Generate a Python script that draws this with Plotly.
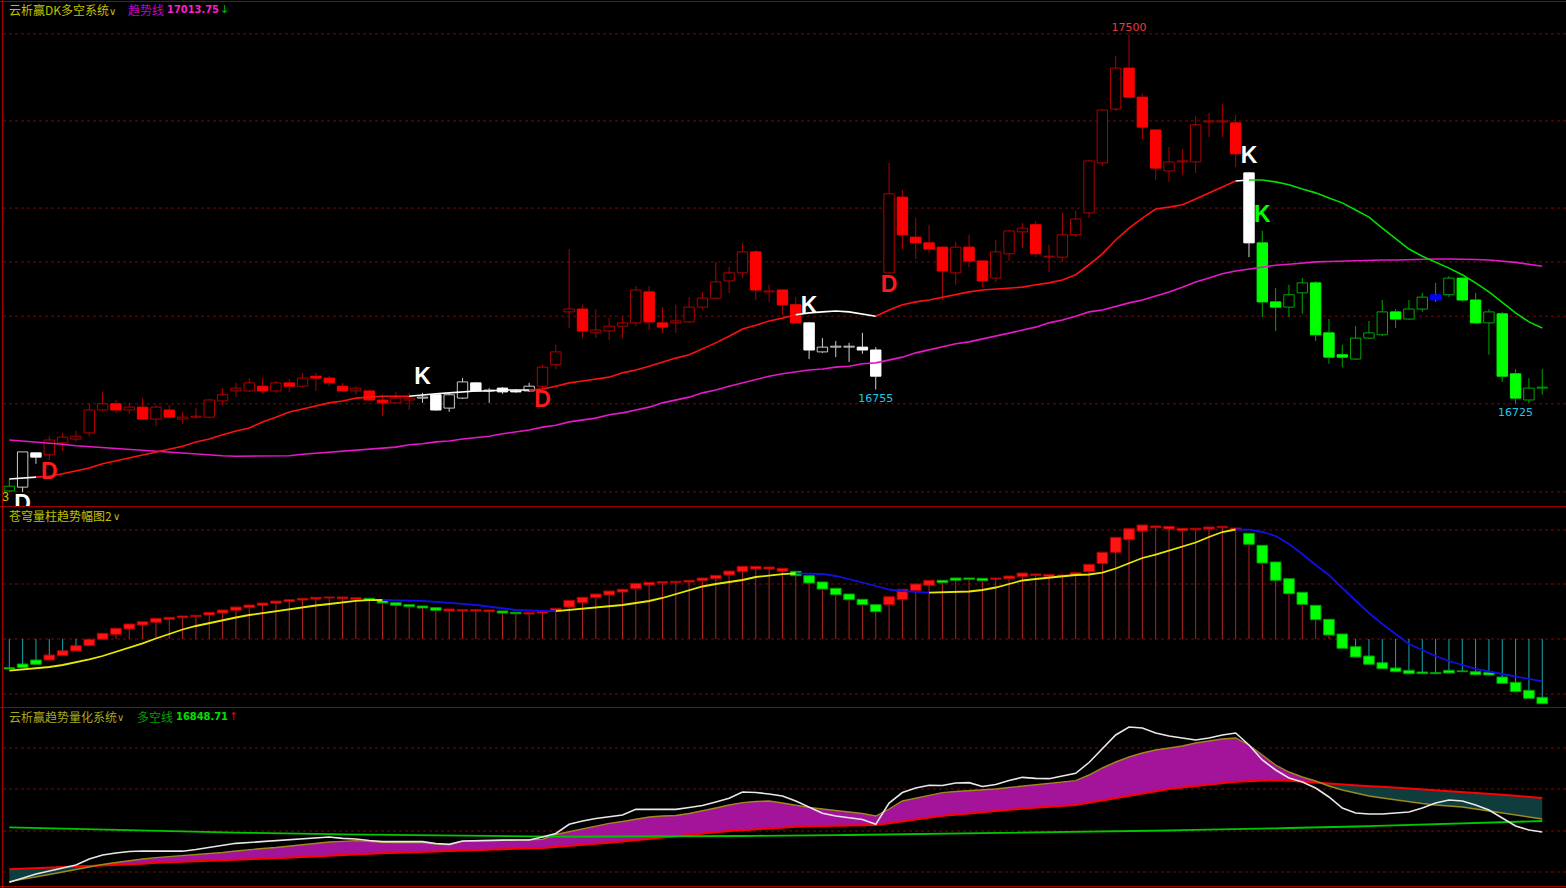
import plotly.graph_objects as go

# ======================= DATA =======================
N_BARS = 116
bars = list(range(N_BARS))

opens = [16542, 16550, 16622, 16618, 16643, 16651, 16664, 16712, 16725, 16712,
         16718, 16693, 16712, 16693, 16697, 16697, 16731, 16752, 16752, 16762,
         16752, 16769, 16762, 16783, 16779, 16762, 16752, 16752, 16733, 16727,
         16733, 16737, 16744, 16716, 16737, 16769, 16752, 16758, 16752, 16752,
         16762, 16807, 16918, 16924, 16874, 16878, 16888, 16895, 16960, 16895,
         16895, 16897, 16928, 16947, 16983, 17000, 17044, 16960, 16964, 16933,
         16895, 16834, 16844, 16844, 16844, 16838, 17000, 17159, 17075, 17063,
         17054, 17000, 17054, 17025, 16989, 17040, 17086, 17101, 17033, 17033,
         17080, 17126, 17231, 17344, 17430, 17369, 17300, 17214, 17233, 17233,
         17317, 17317, 17315, 17210, 17063, 16939, 16928, 16958, 16979, 16874,
         16828, 16819, 16863, 16870, 16918, 16903, 16924, 16954, 16954, 16989,
         16943, 16895, 16914, 16788, 16733, 16758]
closes = [16552, 16624, 16613, 16649, 16655, 16657, 16712, 16725, 16712, 16718,
          16693, 16718, 16697, 16697, 16699, 16733, 16744, 16758, 16769, 16752,
          16769, 16762, 16779, 16779, 16769, 16752, 16758, 16733, 16727, 16737,
          16737, 16739, 16712, 16744, 16771, 16752, 16754, 16750, 16750, 16762,
          16802, 16834, 16924, 16878, 16880, 16888, 16895, 16964, 16897, 16886,
          16899, 16928, 16947, 16981, 17000, 17044, 16964, 16962, 16933, 16895,
          16838, 16844, 16846, 16846, 16838, 16783, 17166, 17080, 17063, 17050,
          17004, 17054, 17025, 16983, 17044, 17088, 17094, 17040, 17035, 17080,
          17113, 17235, 17342, 17430, 17369, 17306, 17220, 17233, 17235, 17311,
          17319, 17319, 17250, 17063, 16939, 16928, 16954, 16979, 16870, 16823,
          16823, 16863, 16874, 16918, 16903, 16924, 16949, 16943, 16989, 16943,
          16895, 16918, 16783, 16737, 16758, 16760]
highs = [16567, 16624, 16622, 16657, 16664, 16668, 16727, 16750, 16733, 16727,
         16737, 16722, 16722, 16708, 16716, 16735, 16758, 16769, 16779, 16779,
         16773, 16777, 16790, 16790, 16783, 16769, 16762, 16754, 16744, 16750,
         16748, 16748, 16746, 16748, 16779, 16771, 16758, 16760, 16756, 16769,
         16807, 16849, 17050, 16933, 16924, 16905, 16907, 16972, 16972, 16928,
         16933, 16949, 16960, 17023, 17012, 17063, 17048, 16975, 16966, 16949,
         16897, 16863, 16857, 16853, 16874, 16844, 17231, 17174, 17115, 17101,
         17056, 17065, 17080, 17027, 17069, 17090, 17105, 17109, 17059, 17126,
         17130, 17237, 17344, 17455, 17500, 17376, 17302, 17264, 17260, 17329,
         17336, 17355, 17332, 17212, 17088, 16968, 16975, 16989, 16983, 16903,
         16849, 16888, 16899, 16943, 16924, 16943, 16958, 16979, 16993, 16991,
         16958, 16924, 16918, 16798, 16779, 16798]
lows = [16540, 16540, 16599, 16607, 16626, 16645, 16657, 16710, 16706, 16704,
        16691, 16678, 16693, 16683, 16693, 16695, 16722, 16739, 16750, 16748,
        16748, 16750, 16760, 16752, 16762, 16750, 16744, 16731, 16699, 16725,
        16712, 16727, 16710, 16708, 16735, 16750, 16727, 16746, 16748, 16750,
        16758, 16798, 16884, 16863, 16863, 16859, 16863, 16888, 16880, 16874,
        16874, 16895, 16924, 16945, 16958, 16989, 16943, 16939, 16912, 16893,
        16819, 16832, 16823, 16813, 16830, 16755, 16998, 17050, 17029, 17042,
        16943, 16975, 17012, 16970, 16981, 17025, 17052, 17033, 17002, 17023,
        17075, 17115, 17224, 17340, 17367, 17281, 17195, 17191, 17206, 17210,
        17285, 17285, 17222, 17033, 16907, 16878, 16907, 16914, 16857, 16809,
        16802, 16817, 16861, 16867, 16884, 16901, 16918, 16939, 16949, 16939,
        16893, 16828, 16771, 16725, 16727, 16744]

# DK long/short line and trend line (price units)
dk_line = [16567, 16569, 16571, 16573, 16578, 16584, 16590, 16599, 16605, 16611,
           16618, 16624, 16630, 16636, 16645, 16651, 16660, 16668, 16674, 16687,
           16697, 16708, 16714, 16720, 16727, 16731, 16737, 16739, 16741, 16741,
           16741, 16744, 16746, 16748, 16750, 16752, 16752, 16754, 16754, 16754,
           16756, 16762, 16769, 16773, 16777, 16781, 16790, 16796, 16804, 16813,
           16821, 16828, 16840, 16853, 16867, 16882, 16890, 16899, 16905, 16912,
           16916, 16918, 16920, 16918, 16914, 16909, 16922, 16933, 16939, 16943,
           16949, 16954, 16960, 16964, 16966, 16968, 16970, 16975, 16979, 16985,
           16996, 17017, 17040, 17069, 17094, 17115, 17134, 17138, 17143, 17155,
           17168, 17180, 17193, 17195, 17195, 17191, 17185, 17176, 17168, 17157,
           17147, 17132, 17117, 17094, 17071, 17050, 17035, 17023, 17010, 16996,
           16979, 16960, 16937, 16916, 16897, 16884]
trend_line = [16649, 16647, 16645, 16642, 16640, 16637, 16635, 16633, 16631, 16629,
              16627, 16625, 16623, 16621, 16620, 16618, 16616, 16615, 16615, 16615,
              16615, 16616, 16619, 16621, 16623, 16626, 16628, 16630, 16632, 16634,
              16639, 16641, 16645, 16647, 16651, 16654, 16657, 16662, 16666, 16670,
              16676, 16680, 16687, 16691, 16695, 16702, 16706, 16712, 16718, 16727,
              16733, 16739, 16748, 16754, 16762, 16769, 16777, 16783, 16788, 16792,
              16796, 16798, 16802, 16804, 16809, 16811, 16817, 16823, 16832, 16838,
              16844, 16851, 16855, 16861, 16867, 16874, 16880, 16886, 16895, 16901,
              16909, 16918, 16922, 16930, 16937, 16943, 16951, 16960, 16970, 16981,
              16989, 16998, 17004, 17008, 17012, 17016, 17018, 17021, 17023, 17024,
              17025, 17026, 17027, 17027, 17027, 17028, 17029, 17029, 17029, 17029,
              17028, 17027, 17025, 17022, 17018, 17014]

# regime signals of the DK system
signal_bars = [0, 1, 3, 31, 40, 60, 66, 93, 94]
signal_states = ["short", "watch", "long", "watch", "long", "watch", "long", "watch", "short"]
signal_letters = ["", "D", "D", "K", "D", "K", "D", "K", "K"]
blue_bars = [107]
peak_bar = 84
trough_bars = [65, 113]

trend_value_text = "17013.75"
dk2_value_text = "16848.71"

# middle panel (volume-column trend amplitude)
mid_open = [-28.7, -25, -21, -21, -16.7, -12, -6.7, -0.3, 4.7, 10,
            14, 16.7, 19.7, 21.3, 22.3, 24, 26, 28.7, 31.3, 33.7,
            35.7, 37.3, 39, 40, 41, 40.3, 39.7, 40.7, 38.7, 36.3,
            34.3, 33, 31.3, 28, 28, 28, 27.3, 28, 26.7, 25,
            26, 28.3, 32, 36.3, 41.3, 44, 47, 50.3, 54, 56,
            56.3, 57, 58.3, 60.3, 64, 67.3, 70, 70, 67.7, 67.7,
            63.3, 57, 50.7, 45, 39.7, 34.3, 34.3, 39.3, 48.3, 53.7,
            58.7, 61, 61, 60.7, 59.7, 60.3, 62.3, 63.7, 62.3, 62.7,
            63.7, 67.3, 75.5, 86.7, 99.3, 108, 111.3, 110, 108.3, 109.3,
            110, 111.3, 109.7, 105.7, 93.7, 77, 60.3, 46.7, 33.7, 19.7,
            5, -7.7, -17, -23.7, -29, -31.3, -33, -33.7, -31.3, -32,
            -32.7, -33.3, -38, -43.3, -51.3, -58.3]
mid_close = [-30, -28.7, -25.3, -16, -11.7, -6.7, -0.3, 5.7, 10.7, 15,
             17.3, 20.7, 21.7, 23, 23.7, 26.7, 29, 32, 34, 36,
             38, 39.3, 40.7, 41.7, 42, 42, 41.3, 38.7, 36, 33.7,
             32.3, 31, 28.7, 30, 29.3, 29.3, 29, 26, 25.3, 26.3,
             27.7, 30.7, 38.7, 41.7, 45, 48, 49.7, 55.7, 56.7, 57.3,
             57.7, 58.7, 61, 63.7, 68, 72.7, 72.7, 72, 70.7, 63.3,
             56, 50, 44.3, 39.3, 34.3, 27.3, 42.3, 49.7, 55, 58.7,
             56.3, 58.7, 59.7, 58.3, 61, 63, 66, 65, 64.7, 64,
             66.3, 74.7, 86.7, 101.7, 110.3, 114, 113, 112.7, 110.7, 110.7,
             112, 112.7, 111, 94.7, 76, 58.7, 45.3, 34.7, 19.3, 4,
             -9.3, -18, -25.3, -29.7, -32.7, -34.7, -34.7, -34.7, -34, -32.7,
             -35.7, -36, -44.3, -52.7, -59.3, -64.7]
mid_line = [-31.7, -30.5, -29.3, -28, -26, -23.5, -20.3, -17, -13, -9,
            -4.3, 0.5, 5, 9.5, 13, 16, 19, 21.5, 24, 26,
            28, 29.5, 31.5, 33.5, 35, 36.7, 38.2, 38.8, 39, 38.9,
            38.6, 38.2, 37.2, 36.5, 35.2, 34, 32.2, 30.7, 29, 28.5,
            28, 27.9, 29, 30, 31.2, 32.3, 34, 36, 38, 41,
            45, 49, 52.5, 55, 57, 59, 62, 63.5, 64.8, 65.7,
            65.5, 65, 63, 60, 56.5, 53, 49.5, 48, 46.8, 46.3,
            46.5, 46.7, 47.5, 49, 51.5, 55, 58.5, 60, 61.5, 63,
            64, 64.5, 66.3, 70.5, 76, 81, 84.3, 88.5, 92.5, 96.5,
            102, 107, 109.5, 109.4, 107, 103, 95, 85, 74, 64,
            51, 38, 26, 15, 5, -5, -11, -17, -22, -26,
            -29.8, -32.5, -35, -37.5, -40, -42.3]

# bottom panel (trend quantification system)
bot_green = [16811, 16809, 16808, 16805, 16803, 16800, 16798, 16795, 16793, 16791,
             16789, 16787, 16785, 16784, 16782, 16781, 16780, 16779, 16778, 16776,
             16775, 16773, 16772, 16771, 16770, 16769, 16768, 16766, 16765, 16763,
             16762, 16762, 16761, 16761, 16760, 16759, 16758, 16757, 16757, 16755,
             16755, 16755, 16755, 16755, 16755, 16756, 16756, 16756, 16756, 16756,
             16757, 16757, 16757, 16757, 16757, 16759, 16760, 16760, 16761, 16762,
             16762, 16763, 16764, 16765, 16766, 16767, 16768, 16768, 16770, 16770,
             16771, 16772, 16773, 16774, 16775, 16776, 16777, 16778, 16779, 16781,
             16782, 16783, 16785, 16786, 16788, 16789, 16791, 16792, 16794, 16795,
             16797, 16799, 16800, 16802, 16803, 16805, 16807, 16808, 16810, 16812,
             16814, 16816, 16818, 16820, 16823, 16825, 16827, 16829, 16831, 16833,
             16836, 16838, 16841, 16843, 16846, 16849]
bot_white = [16481, 16507, 16531, 16549, 16567, 16585, 16621, 16645, 16657, 16666,
             16669, 16670, 16669, 16668, 16678, 16690, 16705, 16715, 16720, 16726,
             16731, 16738, 16745, 16751, 16753, 16745, 16741, 16732, 16725, 16725,
             16725, 16725, 16714, 16709, 16729, 16732, 16733, 16734, 16735, 16735,
             16753, 16774, 16829, 16849, 16864, 16876, 16885, 16919, 16919, 16919,
             16919, 16930, 16942, 16963, 16985, 17023, 17020, 17011, 16999, 16969,
             16933, 16895, 16879, 16870, 16858, 16829, 16957, 17020, 17047, 17063,
             17062, 17077, 17079, 17056, 17068, 17092, 17111, 17105, 17103, 17119,
             17135, 17200, 17281, 17365, 17413, 17407, 17377, 17359, 17347, 17335,
             17347, 17365, 17377, 17305, 17215, 17155, 17107, 17083, 17047, 16993,
             16927, 16897, 16891, 16891, 16897, 16903, 16927, 16957, 16975, 16969,
             16945, 16915, 16867, 16819, 16795, 16783]
bot_olive = [16485, 16498, 16513, 16528, 16543, 16558, 16576, 16588, 16600, 16612,
             16621, 16629, 16635, 16641, 16645, 16651, 16660, 16669, 16678, 16684,
             16690, 16699, 16708, 16717, 16723, 16727, 16731, 16727, 16721, 16720,
             16719, 16719, 16711, 16707, 16727, 16730, 16731, 16733, 16734, 16735,
             16739, 16768, 16785, 16804, 16822, 16835, 16846, 16861, 16873, 16879,
             16882, 16894, 16909, 16927, 16945, 16959, 16966, 16969, 16957, 16942,
             16931, 16921, 16911, 16903, 16894, 16879, 16921, 16969, 16985, 17002,
             17019, 17026, 17031, 17035, 17041, 17050, 17059, 17068, 17077, 17086,
             17091, 17125, 17167, 17203, 17233, 17257, 17275, 17287, 17299, 17317,
             17329, 17341, 17347, 17305, 17245, 17185, 17143, 17113, 17089, 17059,
             17035, 17017, 16999, 16987, 16975, 16963, 16954, 16945, 16939, 16933,
             16921, 16909, 16897, 16885, 16873, 16861]
bot_red = [16559, 16562, 16565, 16568, 16571, 16574, 16577, 16581, 16586, 16589,
           16593, 16598, 16602, 16605, 16608, 16611, 16613, 16616, 16618, 16621,
           16623, 16626, 16631, 16636, 16641, 16646, 16650, 16653, 16656, 16659,
           16661, 16664, 16667, 16669, 16672, 16674, 16677, 16680, 16683, 16685,
           16687, 16693, 16697, 16704, 16711, 16718, 16726, 16734, 16742, 16750,
           16758, 16766, 16775, 16783, 16789, 16794, 16800, 16806, 16812, 16815,
           16817, 16819, 16820, 16822, 16823, 16825, 16836, 16848, 16860, 16871,
           16880, 16887, 16895, 16903, 16910, 16917, 16923, 16928, 16934, 16940,
           16945, 16959, 16973, 16988, 17002, 17016, 17030, 17041, 17050, 17059,
           17069, 17078, 17084, 17087, 17091, 17094, 17091, 17085, 17079, 17073,
           17069, 17064, 17058, 17054, 17049, 17044, 17039, 17035, 17030, 17025,
           17020, 17013, 17007, 17000, 16994, 16987]

# ======================= LAYOUT CONSTANTS =======================
W, H = 1566, 888
PX0, PXSTEP = 9.3, 13.33
X_RANGE = [-PX0 / PXSTEP, (W - PX0) / PXSTEP]


def dom(top_px, bot_px):
    return [1 - bot_px / H, 1 - top_px / H]


TOP_DOM, MID_DOM, BOT_DOM = dom(3, 506), dom(508, 707), dom(708, 886)
TOP_RANGE = [16510.4, 17566.7]
MID_RANGE = [-68, 131]
BOT_RANGE = [16459, 17527]
TOP_GRID = [17502, 17319, 17136, 17023, 16909, 16725, 16540]
MID_GRID = [109, 55, 0, -55]
BOT_GRID = [17287, 17041, 16789, 16543]

STYLE = {
    "long": dict(fill="#ff0000", hollow="#b00000", wick="#b00000", line="#ff1010", text="#ff1a1a"),
    "watch": dict(fill="#ffffff", hollow="#c8c8c8", wick="#d0d0d0", line="#ffffff", text="#ffffff"),
    "short": dict(fill="#00ff00", hollow="#00a800", wick="#00a800", line="#00e000", text="#00ff00"),
}
BLUE = "#0000ff"
GRID_COLOR = "#8a0000"
BORDER_COLOR = "#a00000"
CJK = "Noto Sans CJK SC"

fig = go.Figure()

# ---------- regime per bar ----------
state = []
cur = signal_states[0]
for i in bars:
    if i in signal_bars:
        cur = signal_states[signal_bars.index(i)]
    state.append(cur)


def colored_runs(values, keys):
    out = []
    i = 1
    while i < len(values):
        k = keys[i]
        xs, ys = [i - 1], [values[i - 1]]
        while i < len(values) and keys[i] == k:
            xs.append(i)
            ys.append(values[i])
            i += 1
        out.append((k, xs, ys))
    return out


# ---------- TOP PANEL ----------
wick_xy = {k: ([], []) for k in STYLE}
body_base, body_len, body_fill, body_edge = [], [], [], []
for i in bars:
    o, c = opens[i], closes[i]
    st = STYLE[state[i]]
    lo_b = min(o, c)
    ln = max(abs(c - o), 1.2)
    body_base.append(lo_b)
    body_len.append(ln)
    if i in blue_bars:
        body_fill.append(BLUE)
        body_edge.append(BLUE)
    elif c > o:
        body_fill.append("#000000")
        body_edge.append(st["hollow"])
    else:
        body_fill.append(st["fill"])
        body_edge.append(st["fill"])
    xs, ys = wick_xy[state[i]]
    xs += [i, i, None, i, i, None]
    ys += [highs[i], lo_b + ln, None, lo_b, lows[i], None]

for k, (xs, ys) in wick_xy.items():
    fig.add_trace(go.Scatter(x=xs, y=ys, mode="lines", line=dict(color=STYLE[k]["wick"], width=1),
                             hoverinfo="skip", xaxis="x", yaxis="y"))

fig.add_trace(go.Bar(x=bars, y=body_len, base=body_base, width=0.78,
                     marker=dict(color=body_fill, line=dict(color=body_edge, width=1)),
                     hoverinfo="skip", xaxis="x", yaxis="y"))

# trend line (magenta)
fig.add_trace(go.Scatter(x=bars, y=trend_line, mode="lines", line=dict(color="#e619c8", width=1.6),
                         hoverinfo="skip", xaxis="x", yaxis="y"))
# DK line colored by regime
for k, xs, ys in colored_runs(dk_line, state):
    fig.add_trace(go.Scatter(x=xs, y=ys, mode="lines", line=dict(color=STYLE[k]["line"], width=1.6),
                             hoverinfo="skip", xaxis="x", yaxis="y"))

# signal letters
for b, st, letter in zip(signal_bars, signal_states, signal_letters):
    if not letter:
        continue
    ypos = highs[b] + 31 if letter == "K" else lows[b] - 27
    fig.add_trace(go.Scatter(x=[b], y=[ypos], mode="text", text=[letter],
                             textfont=dict(family="Liberation Sans", size=23, color=STYLE[st]["text"],
                                           weight="bold"),
                             cliponaxis=True, hoverinfo="skip", xaxis="x", yaxis="y"))
fig.add_trace(go.Scatter(x=[-0.3], y=[16527], mode="text", text=["3"],
                         textfont=dict(family="Liberation Sans", size=13, color="#c8c800"),
                         cliponaxis=True, hoverinfo="skip", xaxis="x", yaxis="y"))

# extreme price labels
fig.add_trace(go.Scatter(x=[peak_bar], y=[highs[peak_bar] + 13], mode="text", text=[str(highs[peak_bar])],
                         textfont=dict(family="DejaVu Sans", size=11, color="#e83c3c"),
                         cliponaxis=False, hoverinfo="skip", xaxis="x", yaxis="y"))
fig.add_trace(go.Scatter(x=trough_bars, y=[lows[b] - 20 for b in trough_bars], mode="text",
                         text=[str(lows[b]) for b in trough_bars],
                         textfont=dict(family="DejaVu Sans", size=11, color="#1ec8e6"),
                         cliponaxis=False, hoverinfo="skip", xaxis="x", yaxis="y"))

# ---------- MIDDLE PANEL ----------
pos_xy, neg_xy = ([], []), ([], [])
for i in bars:
    o, c = mid_open[i], mid_close[i]
    if c >= 0:
        end = max(0, min(o, c))
        tgt = pos_xy
    else:
        end = min(0, max(o, c))
        tgt = neg_xy
    tgt[0].extend([i, i, None])
    tgt[1].extend([0, end, None])
fig.add_trace(go.Scatter(x=pos_xy[0], y=pos_xy[1], mode="lines", line=dict(color="#b02424", width=1),
                         hoverinfo="skip", xaxis="x2", yaxis="y2"))
fig.add_trace(go.Scatter(x=neg_xy[0], y=neg_xy[1], mode="lines", line=dict(color="#1aa6a6", width=1),
                         hoverinfo="skip", xaxis="x2", yaxis="y2"))

m_base = [min(o, c) for o, c in zip(mid_open, mid_close)]
m_len = [max(abs(c - o), 0.8) for o, c in zip(mid_open, mid_close)]
m_fill = ["#ff1414" if c > o else "#00ff00" for o, c in zip(mid_open, mid_close)]
m_edge = ["#b00000" if c > o else "#00a000" for o, c in zip(mid_open, mid_close)]
fig.add_trace(go.Bar(x=bars, y=m_len, base=m_base, width=0.8,
                     marker=dict(color=m_fill, line=dict(color=m_edge, width=1)),
                     hoverinfo="skip", xaxis="x2", yaxis="y2"))

mid_dir = ["up"] + ["up" if mid_line[i] >= mid_line[i - 1] else "down" for i in range(1, N_BARS)]
for k, xs, ys in colored_runs(mid_line, mid_dir):
    fig.add_trace(go.Scatter(x=xs, y=ys, mode="lines",
                             line=dict(color="#e8e800" if k == "up" else "#1010e6", width=1.8),
                             hoverinfo="skip", xaxis="x2", yaxis="y2"))

# ---------- BOTTOM PANEL ----------
polys = []
cx, cu, cl = [0], [bot_olive[0]], [bot_red[0]]
sign = bot_olive[0] >= bot_red[0]
for i in range(1, N_BARS):
    s = bot_olive[i] >= bot_red[i]
    if s != sign:
        d0 = bot_olive[i - 1] - bot_red[i - 1]
        d1 = bot_olive[i] - bot_red[i]
        t = d0 / (d0 - d1)
        xc = (i - 1) + t
        yc = bot_olive[i - 1] + t * (bot_olive[i] - bot_olive[i - 1])
        cx.append(xc); cu.append(yc); cl.append(yc)
        polys.append((sign, cx, cu, cl))
        cx, cu, cl = [xc], [yc], [yc]
        sign = s
    cx.append(i); cu.append(bot_olive[i]); cl.append(bot_red[i])
polys.append((sign, cx, cu, cl))
for s, xs, us, ls in polys:
    fig.add_trace(go.Scatter(x=xs + xs[::-1], y=us + ls[::-1], mode="lines", fill="toself",
                             fillcolor="#a3149b" if s else "#0f3d3d", line=dict(width=0),
                             hoverinfo="skip", xaxis="x3", yaxis="y3"))

fig.add_trace(go.Scatter(x=bars, y=bot_red, mode="lines", line=dict(color="#ff0000", width=2),
                         hoverinfo="skip", xaxis="x3", yaxis="y3"))
fig.add_trace(go.Scatter(x=bars, y=bot_olive, mode="lines", line=dict(color="#9c8a1c", width=1.4),
                         hoverinfo="skip", xaxis="x3", yaxis="y3"))
fig.add_trace(go.Scatter(x=bars, y=bot_green, mode="lines", line=dict(color="#00c800", width=1.8),
                         hoverinfo="skip", xaxis="x3", yaxis="y3"))
fig.add_trace(go.Scatter(x=bars, y=bot_white, mode="lines", line=dict(color="#e8e8e8", width=1.6),
                         hoverinfo="skip", xaxis="x3", yaxis="y3"))

# ---------- shapes: grids and borders ----------
shapes = []
for yref, levels in (("y", TOP_GRID), ("y2", MID_GRID), ("y3", BOT_GRID)):
    for lv in levels:
        shapes.append(dict(type="line", xref="paper", yref=yref, x0=3 / W, x1=1, y0=lv, y1=lv,
                           line=dict(color=GRID_COLOR, width=1, dash="dot"), layer="below"))
for ypx in (1.5, 506.5, 707.5, 886.5):
    shapes.append(dict(type="line", xref="paper", yref="paper", x0=0, x1=1,
                       y0=1 - ypx / H, y1=1 - ypx / H, line=dict(color=BORDER_COLOR, width=1.2)))
shapes.append(dict(type="line", xref="paper", yref="paper", x0=2.5 / W, x1=2.5 / W, y0=0, y1=1,
                   line=dict(color=BORDER_COLOR, width=1.2)))


# ---------- header texts ----------
def head(xpx, ypx, text, color, size=12, family=CJK):
    return dict(x=xpx / W, y=1 - ypx / H, xref="paper", yref="paper", xanchor="left", yanchor="middle",
                text=text, showarrow=False, font=dict(family=family, size=size, color=color))


annotations = [
    head(7, 10, "云析赢DK多空系统", "#c0c000"),
    head(107, 11, "∨", "#c0c000", 10, "DejaVu Sans"),
    head(126, 10, "趋势线", "#c800c8"),
    head(165, 10, "<b>" + trend_value_text + "</b>", "#ff1ecb", 11, "DejaVu Sans Condensed"),
    head(218, 10, "↓", "#00c000", 11, "DejaVu Sans"),
    head(7, 515, "苍穹量柱趋势幅图2", "#c0c000"),
    head(111, 516, "∨", "#c0c000", 10, "DejaVu Sans"),
    head(7, 716, "云析赢趋势量化系统", "#a8a820"),
    head(115, 717, "∨", "#a8a820", 10, "DejaVu Sans"),
    head(135, 716, "多空线", "#00a000"),
    head(174, 716, "<b>" + dk2_value_text + "</b>", "#00e000", 11, "DejaVu Sans Condensed"),
    head(227, 716, "↑", "#e00000", 11, "DejaVu Sans"),
]

axis_x = dict(range=X_RANGE, domain=[0, 1], visible=False, fixedrange=True)
axis_y = dict(visible=False, fixedrange=True)
fig.update_layout(
    width=W, height=H, margin=dict(l=0, r=0, t=0, b=0),
    paper_bgcolor="#000000", plot_bgcolor="#000000", showlegend=False, barmode="overlay",
    xaxis=dict(axis_x, anchor="y"), xaxis2=dict(axis_x, anchor="y2"), xaxis3=dict(axis_x, anchor="y3"),
    yaxis=dict(axis_y, domain=TOP_DOM, range=TOP_RANGE, anchor="x"),
    yaxis2=dict(axis_y, domain=MID_DOM, range=MID_RANGE, anchor="x2"),
    yaxis3=dict(axis_y, domain=BOT_DOM, range=BOT_RANGE, anchor="x3"),
    shapes=shapes, annotations=annotations,
)

fig.write_html("out.html", config={"displayModeBar": False},
               post_script="document.body.style.margin='0';document.body.style.overflow='hidden';")
